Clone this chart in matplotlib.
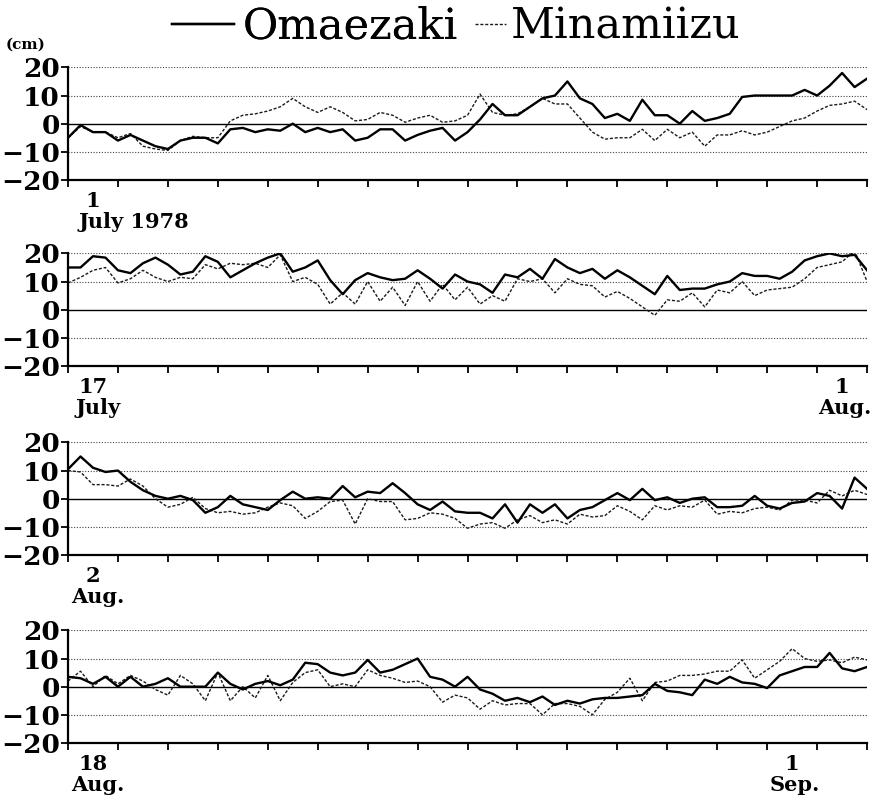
import numpy as np
import matplotlib
matplotlib.use("Agg")
import matplotlib.pyplot as plt

plt.rcParams['font.family'] = ['DejaVu Serif']

# sea level anomalies (cm), sampled every 6 hours, 16 days per panel
omaezaki_p1 = [-5, -0.5, -3, -3, -6, -4, -6, -8, -9, -6, -5, -5, -7, -2, -1.5, -3,
               -2, -2.5, 0, -3, -1.5, -3, -2, -6, -5, -2, -2, -6, -4, -2.5, -1.5, -6,
               -3, 1.5, 7, 3, 3, 6, 9, 10, 15, 9, 7, 2, 3.5, 1, 8.5, 3,
               3, 0, 4.5, 1, 2, 3.5, 9.5, 10, 10, 10, 10, 12, 10, 13.5, 18, 13, 16]
minamiizu_p1 = [-5, -1, -3, -3, -5, -3.5, -8, -9, -9.5, -6, -4.5, -5, -5, 1, 3, 3.5,
                4.5, 6, 9, 6, 4, 6, 4, 1, 1.5, 4, 3, 0.5, 2, 3, 0.5, 1,
                3, 10.5, 4, 3, 3.5, 6, 9, 7, 7, 2, -3, -5.5, -5, -5, -2, -6,
                -2, -5, -3, -8, -4, -4, -2.5, -4, -3, -1, 1, 2, 4.5, 6.5, 7, 8, 5]

omaezaki_p2 = [15, 15, 19, 18.5, 14, 13, 16.5, 18.5, 16, 12.5, 13.5, 19, 17, 11.5, 14, 16.5,
               18.5, 20, 13.5, 15, 17.5, 10.5, 5.5, 10.5, 13, 11.5, 10.5, 11, 14, 11, 7.5, 12.5,
               10, 9, 6, 12.5, 11.5, 14.5, 11, 18, 15, 13, 14.5, 11, 14, 11.5, 8.5, 5.5,
               12, 7, 7.5, 7.5, 9, 10, 13, 12, 12, 11, 13.5, 17.5, 19, 20, 19, 19.5, 14]
minamiizu_p2 = [9.5, 11.5, 14, 15, 9.5, 11, 14, 11.5, 10, 11.5, 11, 16, 14.5, 16.5, 16, 16.5,
                15, 19.5, 10, 11.5, 9, 2, 6, 2, 10, 3, 8, 1.5, 10, 3, 9, 3.5,
                8, 2, 5, 3, 11, 10, 11, 6, 11, 9, 8.5, 4.5, 6.5, 4, 1, -2,
                3.5, 3, 6, 1, 7, 6, 10, 5, 7, 7.5, 8, 11, 15, 16, 17, 21, 10]

omaezaki_p3 = [10.5, 15, 11, 9.5, 10, 6, 3, 1, 0, 1, -0.5, -5, -3, 1, -2, -3,
               -4, -0.5, 2.5, 0, 0.5, 0, 4.5, 0.5, 2.5, 2, 5.5, 2, -2, -4, -1, -4.5,
               -5, -5, -7, -2, -8.5, -2, -5, -2, -7, -4, -3, -0.5, 2, -0.5, 3.5, -0.5,
               0.5, -1.5, 0, 0.5, -3, -3, -2.5, 1, -2.5, -3.5, -1.5, -1, 2, 1, -3.5, 7.5, 3.5]
minamiizu_p3 = [10, 9.5, 5, 5, 4.5, 7, 4.5, 0, -3, -2, 0.5, -3.5, -5, -4.5, -5.5, -5,
                -3, -1.5, -2.5, -7, -4.5, -1, -0.5, -9, 0, -1, -1, -7.5, -7, -5, -5.5, -7,
                -10.5, -9, -8.5, -10.5, -7.5, -6, -8.5, -7.5, -9, -5.5, -6.5, -6, -2.5, -4.5, -7.5, -2.5,
                -4, -2.5, -3, -0.5, -5.5, -4.5, -5, -3.5, -3, -4, -0.5, -0.5, -1.5, 3, 1, 3, 1.5]

omaezaki_p4 = [3.5, 3, 1, 3.5, 0, 3.5, 0, 1, 3, 0, 0, 0, 5, 1, -1, 1,
               2, 0.5, 2.5, 8.5, 8, 5, 4, 5, 9.5, 5, 6, 8, 10, 3.5, 2.5, 0,
               3.5, -1, -2.5, -5, -4, -5.5, -3.5, -6.5, -5, -6, -4.5, -4, -4, -3.5, -3, 1,
               -1.5, -2, -3, 2.5, 1, 3.5, 1.5, 1, -0.5, 4, 5.5, 7, 7, 12, 6.5, 5.5, 7]
minamiizu_p4 = [2, 5.5, 0, 4, 1, 4, 2, -1, -3, 4, 1, -5, 5, -5, 0, -4,
                4, -5, 1.5, 5, 6, 0, 1, 0, 6, 4, 3, 1.5, 2, 0, -5.5, -3,
                -4, -8, -5, -6.5, -6, -6, -10, -6, -6, -7, -10, -4.5, -2, 3, -5, 1.5,
                2, 4, 4, 4.5, 5.5, 5.5, 9.5, 3, 6, 9, 13.5, 10, 9, 9.5, 8.5, 10.5, 9.5]

omaezaki = [omaezaki_p1, omaezaki_p2, omaezaki_p3, omaezaki_p4]
minamiizu = [minamiizu_p1, minamiizu_p2, minamiizu_p3, minamiizu_p4]

STEP_DAYS = 0.25
DAYS_PER_PANEL = 16

yticks = [-20, -10, 0, 10, 20]
ytick_labels = ["\u221220", "\u221210", "0", "10", "20"]

left_day = ["1", "17", "2", "18"]
left_month = ["July 1978", "July", "Aug.", "Aug."]
right_day = [None, "1", None, "1"]
right_month = [None, "Aug.", None, "Sep."]
right_day_index = [None, 15, None, 14]

fig = plt.figure(figsize=(8.8, 8.06), dpi=100)
bottoms = [0.7767, 0.5459, 0.3114, 0.0782]
left, width, height = 0.0773, 0.908, 0.1397

handles = None
for i in range(4):
    ax = fig.add_axes([left, bottoms[i], width, height])
    t = np.arange(len(omaezaki[i])) * STEP_DAYS
    for y in (10, 20, -10):
        ax.axhline(y, color='#444444', lw=0.8, ls=(0, (1, 1.5)), zorder=1)
    ax.axhline(0, color='black', lw=1.0, zorder=1)
    l1, = ax.plot(t, omaezaki[i], color='black', lw=1.7, zorder=3, label='Omaezaki')
    l2, = ax.plot(t, minamiizu[i], color='#1a1a1a', lw=1.0, ls=(0, (2.2, 1.3)),
                  zorder=2, label='Minamiizu')
    handles = [l1, l2]
    ax.set_xlim(0, DAYS_PER_PANEL)
    ax.set_ylim(-20, 20)
    ax.set_yticks(yticks)
    ax.set_yticklabels(ytick_labels, fontsize=19, fontweight='bold')
    ax.set_xticks(np.arange(DAYS_PER_PANEL + 1))
    ax.set_xticklabels([])
    ax.tick_params(axis='x', direction='out', length=5, width=1.3)
    ax.tick_params(axis='y', direction='out', length=5, width=1.3, pad=1)
    for s in ('top', 'right'):
        ax.spines[s].set_visible(False)
    for s in ('left', 'bottom'):
        ax.spines[s].set_linewidth(1.6)

    ax.annotate(left_day[i], xy=(0.5, 0), xycoords=('data', 'axes fraction'),
                xytext=(0, -8), textcoords='offset points', ha='center', va='top',
                fontsize=15, fontweight='bold')
    if i == 0:
        ax.annotate(left_month[i], xy=(0.2, 0), xycoords=('data', 'axes fraction'),
                    xytext=(0, -23), textcoords='offset points', ha='left', va='top',
                    fontsize=15, fontweight='bold')
    else:
        ax.annotate(left_month[i], xy=(0.6, 0), xycoords=('data', 'axes fraction'),
                    xytext=(0, -23), textcoords='offset points', ha='center', va='top',
                    fontsize=15, fontweight='bold')
    if right_day[i] is not None:
        d = right_day_index[i] + 0.5
        ax.annotate(right_day[i], xy=(d, 0), xycoords=('data', 'axes fraction'),
                    xytext=(0, -8), textcoords='offset points', ha='center', va='top',
                    fontsize=15, fontweight='bold')
        ax.annotate(right_month[i], xy=(d, 0), xycoords=('data', 'axes fraction'),
                    xytext=(2, -23), textcoords='offset points', ha='center', va='top',
                    fontsize=15, fontweight='bold')

leg1 = fig.legend([handles[0]], ['Omaezaki'], loc='upper left',
                  bbox_to_anchor=(0.1955, 0.993), frameon=False, fontsize=31,
                  handlelength=1.45, handletextpad=0.2, borderpad=0, borderaxespad=0)
fig.add_artist(leg1)
fig.legend([handles[1]], ['Minamiizu'], loc='upper left',
           bbox_to_anchor=(0.54, 0.993), frameon=False, fontsize=31,
           handlelength=0.72, handletextpad=0.12, borderpad=0, borderaxespad=0)
fig.text(0.006, 0.944, "(cm)", fontsize=11, fontweight='bold', ha='left', va='center')

fig.savefig("out.png", dpi=100)
